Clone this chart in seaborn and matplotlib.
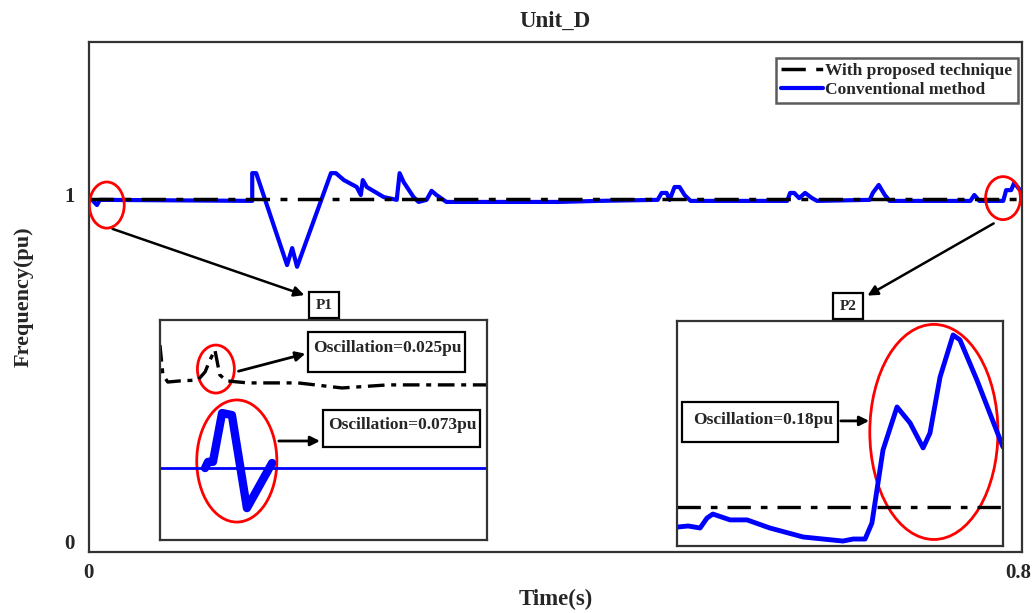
import numpy as np
import pandas as pd
import seaborn as sns
import matplotlib.pyplot as plt
from matplotlib.patches import Ellipse, Rectangle

# ---- datos ----
t_prop = [0.0, 0.803]
f_prop = [0.988, 0.988]

t_conv = [0.0026, 0.0069, 0.0094, 0.1406, 0.1406, 0.144, 0.1706, 0.175, 0.1792,
          0.2084, 0.2126, 0.2195, 0.2306, 0.2341, 0.2358, 0.2392, 0.2538, 0.265,
          0.2675, 0.271, 0.2795, 0.2838, 0.2907, 0.295, 0.2992, 0.3078, 0.404,
          0.4382, 0.4897, 0.4931, 0.4974, 0.5, 0.5042, 0.5085, 0.5128, 0.518,
          0.6012, 0.6037, 0.6072, 0.6115, 0.6166, 0.6226, 0.6269, 0.6723, 0.6749,
          0.68, 0.6852, 0.6894, 0.7589, 0.7623, 0.7666, 0.7872, 0.7897, 0.794,
          0.7966, 0.803]
f_conv = [0.986, 0.971, 0.986, 0.983, 1.063, 1.063, 0.798, 0.847, 0.793,
          1.063, 1.063, 1.043, 1.023, 1.0, 1.043, 1.023, 0.994, 0.986,
          1.063, 1.037, 0.994, 0.980, 0.986, 1.012, 1.0, 0.980, 0.980,
          0.983, 0.986, 1.006, 1.006, 0.986, 1.023, 1.023, 1.0, 0.983,
          0.983, 1.006, 1.006, 0.991, 1.006, 0.991, 0.983, 0.986, 1.006,
          1.029, 1.0, 0.983, 0.983, 1.0, 0.983, 0.983, 1.014, 1.014,
          1.035, 1.009]

# zoom P1 (unidades relativas del recuadro)
p1_t_prop = [0.0, 0.009, 0.024, 0.061, 0.116, 0.138, 0.153, 0.168, 0.183, 0.205,
             0.269, 0.422, 0.557, 0.697, 1.0]
p1_f_prop = [0.886, 0.75, 0.718, 0.723, 0.727, 0.764, 0.818, 0.864, 0.75, 0.723,
             0.714, 0.714, 0.691, 0.705, 0.705]
p1_t_conv = [0.0, 1.0]
p1_f_conv = [0.327, 0.327]
p1_t_osc = [0.138, 0.147, 0.162, 0.190, 0.220, 0.266, 0.343]
p1_f_osc = [0.327, 0.355, 0.355, 0.577, 0.568, 0.145, 0.35]

# zoom P2
p2_t_prop = [0.0, 1.0]
p2_f_prop = [0.173, 0.173]
p2_t_conv = [0.0, 0.034, 0.071, 0.092, 0.11, 0.163, 0.215, 0.285, 0.387, 0.509,
             0.54, 0.577, 0.598, 0.632, 0.675, 0.715, 0.755, 0.776, 0.807, 0.847,
             0.868, 0.92, 1.0]
p2_f_conv = [0.084, 0.089, 0.08, 0.124, 0.142, 0.116, 0.116, 0.08, 0.04, 0.022,
             0.031, 0.031, 0.102, 0.427, 0.618, 0.547, 0.436, 0.502, 0.751, 0.938,
             0.916, 0.738, 0.44]

sns.set_style("white")
plt.rcParams['font.family'] = ['Liberation Serif', 'DejaVu Serif']
plt.rcParams['font.weight'] = 'bold'

DASHDOT = (0, (7, 3, 2, 3))
DASHDOT_ZOOM = (0, (5, 2, 1.5, 2))
fig = plt.figure(figsize=(10.34, 6.13), dpi=100)
ax = fig.add_axes([0.086, 0.0995, 0.902, 0.832])

sns.lineplot(x=t_prop, y=f_prop, ax=ax, color="black", lw=2.5, linestyle=DASHDOT,
             estimator=None, sort=False, label="With proposed technique", zorder=3)
sns.lineplot(x=t_conv, y=f_conv, ax=ax, color="blue", lw=3,
             estimator=None, sort=False, label="Conventional method", zorder=2)

ax.set_xlim(0, 0.803)
ax.set_ylim(-0.029, 1.441)
ax.set_xticks([0, 0.8])
ax.set_xticklabels(["0", "0.8"])
ax.set_yticks([0, 1])
ax.set_yticklabels(["0", "1"])
ax.tick_params(axis="x", length=0, labelsize=15, pad=8)
ax.tick_params(axis="y", length=0, labelsize=15, pad=10)
for s in ax.spines.values():
    s.set_color("#333333")
    s.set_linewidth(1.6)
ax.set_title("Unit_D", fontsize=16.5, fontweight="bold", pad=11)
ax.set_xlabel("Time(s)", fontsize=16.5, fontweight="bold", labelpad=4)
ax.set_ylabel("Frequency(pu)", fontsize=16, fontweight="bold", labelpad=22)

leg = ax.legend(loc="upper right", fontsize=12.5, frameon=True, fancybox=False,
                handlelength=2.4, handletextpad=0.15, borderpad=0.3, labelspacing=0.12,
                borderaxespad=0, bbox_to_anchor=(0.9957, 0.9686))
leg.get_frame().set_edgecolor("#333333")
leg.get_frame().set_linewidth(1.8)

# circulos rojos en la curva principal
ax.add_patch(Ellipse((0.0154, 0.971), 0.030, 0.133, fill=False, ec="red", lw=2, zorder=4))
ax.add_patch(Ellipse((0.787, 0.991), 0.030, 0.124, fill=False, ec="red", lw=2, zorder=4))

# etiquetas P1 / P2 y flechas
for lab, x, y in [("P1", 0.3133, 0.5024), ("P2", 0.8201, 0.5008)]:
    fig.text(x, y, lab, fontsize=11, fontweight="bold", ha="center", va="center",
             bbox=dict(boxstyle="square,pad=0.4", fc="white", ec="black", lw=1.6))
ax.annotate("", xy=(0.2969, 0.5171), xycoords="figure fraction",
            xytext=(0.018, 0.905), textcoords="data",
            arrowprops=dict(arrowstyle="-|>", color="black", lw=1.8, mutation_scale=15))
ax.annotate("", xy=(0.8366, 0.5155), xycoords="figure fraction",
            xytext=(0.781, 0.922), textcoords="data",
            arrowprops=dict(arrowstyle="-|>", color="black", lw=1.8, mutation_scale=15))


def caja(axi, x0, y0, x1, y1, texto, tx, ty):
    axi.add_patch(Rectangle((x0, y0), x1 - x0, y1 - y0, fill=False, ec="black",
                            lw=1.6, transform=axi.transAxes, zorder=5))
    axi.text(tx, ty, texto, transform=axi.transAxes, fontsize=12.5,
             fontweight="bold", va="center", ha="left", zorder=6)


def flecha(axi, x0, y0, x1, y1):
    axi.annotate("", xy=(x1, y1), xytext=(x0, y0), xycoords="axes fraction",
                 arrowprops=dict(arrowstyle="-|>", color="black", lw=2, mutation_scale=14))


# recuadro P1
ax1 = fig.add_axes([0.1547, 0.1191, 0.3162, 0.3589])
sns.lineplot(x=p1_t_prop, y=p1_f_prop, ax=ax1, color="black", lw=2.4, linestyle=DASHDOT_ZOOM,
             estimator=None, sort=False)
sns.lineplot(x=p1_t_conv, y=p1_f_conv, ax=ax1, color="blue", lw=2, estimator=None, sort=False)
sns.lineplot(x=p1_t_osc, y=p1_f_osc, ax=ax1, color="blue", lw=6, estimator=None, sort=False)
ax1.set_xlim(0, 1)
ax1.set_ylim(0, 1)
ax1.add_patch(Ellipse((0.171, 0.777), 0.113, 0.218, fill=False, ec="red", lw=2))
ax1.add_patch(Ellipse((0.235, 0.359), 0.245, 0.555, fill=False, ec="red", lw=2))
caja(ax1, 0.453, 0.764, 0.933, 0.945, "Oscillation=0.025pu", 0.468, 0.873)
caja(ax1, 0.498, 0.423, 0.979, 0.591, "Oscillation=0.073pu", 0.515, 0.523)
flecha(ax1, 0.232, 0.764, 0.453, 0.85)
flecha(ax1, 0.355, 0.45, 0.498, 0.45)

# recuadro P2
ax2 = fig.add_axes([0.6547, 0.1093, 0.3153, 0.367])
sns.lineplot(x=p2_t_prop, y=p2_f_prop, ax=ax2, color="black", lw=2.4, linestyle=DASHDOT,
             estimator=None, sort=False)
sns.lineplot(x=p2_t_conv, y=p2_f_conv, ax=ax2, color="blue", lw=3.5, estimator=None, sort=False)
ax2.set_xlim(0, 1)
ax2.set_ylim(0, 1)
ax2.add_patch(Ellipse((0.788, 0.507), 0.393, 0.956, fill=False, ec="red", lw=2))
caja(ax2, 0.015, 0.462, 0.494, 0.64, "Oscillation=0.18pu", 0.05, 0.56)
flecha(ax2, 0.494, 0.556, 0.598, 0.556)

for a in (ax1, ax2):
    a.set_xticks([])
    a.set_yticks([])
    a.set_xlabel("")
    a.set_ylabel("")
    for s in a.spines.values():
        s.set_color("#333333")
        s.set_linewidth(1.6)

fig.savefig("out.png", dpi=100)
